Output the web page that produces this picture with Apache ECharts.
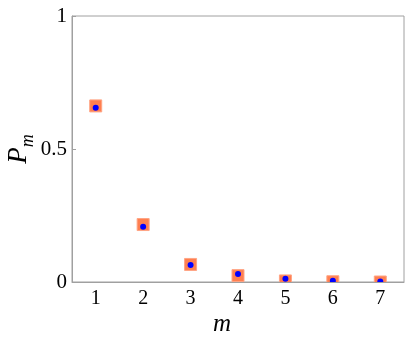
<!DOCTYPE html>
<html>
<head>
<meta charset="utf-8">
<script src="https://cdn.jsdelivr.net/npm/echarts@6/dist/echarts.min.js"></script>
<style>
html,body{margin:0;padding:0;background:#fff;}
#chart{width:407px;height:341px;}
</style>
</head>
<body>
<div id="chart"></div>
<script>
const mValues = [1, 2, 3, 4, 5, 6, 7];
const squareValues = [0.662, 0.216, 0.066, 0.024, 0.004, 0.001, 0.0];
const dotValues = [0.655, 0.208, 0.064, 0.030, 0.012, 0.005, 0.002];
const yTicks = [0, 0.5, 1];
const xTicks = [1, 2, 3, 4, 5, 6, 7];

const serif = "'Liberation Serif', 'Times New Roman', serif";
const axisColor = '#a0a0a0';

const chart = echarts.init(document.getElementById('chart'), null, {renderer: 'canvas'});

const squareData = mValues.map((m, i) => [m, squareValues[i]]);
const dotData = mValues.map((m, i) => [m, dotValues[i]]);

chart.setOption({
  animation: false,
  grid: {left: 72, right: 3, top: 16, bottom: 59, containLabel: false, outerBoundsMode: 'none',
         show: true, borderColor: axisColor, borderWidth: 1, backgroundColor: 'transparent'},
  xAxis: {
    type: 'value', min: 0.5, max: 7.5, z: 10,
    name: 'm', nameLocation: 'middle', nameGap: 30, nameMoveOverlap: false,
    nameTextStyle: {fontFamily: serif, fontStyle: 'italic', fontSize: 25, color: '#000', padding: [0, 32, 0, 0]},
    axisLine: {show: true, lineStyle: {color: axisColor, width: 1}},
    axisTick: {show: false},
    splitLine: {show: false},
    axisLabel: {customValues: xTicks, fontFamily: serif, fontSize: 20, color: '#000', margin: 7}
  },
  yAxis: {
    type: 'value', min: 0, max: 1, interval: 0.5, z: 10,
    name: '{p|P}{s|m}', nameLocation: 'middle', nameGap: 40, nameRotate: 90, nameMoveOverlap: false,
    nameTextStyle: {
      color: '#000',
      rich: {
        p: {fontFamily: serif, fontStyle: 'italic', fontSize: 27, color: '#000'},
        s: {fontFamily: serif, fontStyle: 'italic', fontSize: 18, color: '#000', verticalAlign: 'bottom', padding: [0, 0, -5, 0]}
      }
    },
    axisLine: {show: true, lineStyle: {color: axisColor, width: 1}},
    axisTick: {show: true, inside: true, length: 4, lineStyle: {color: axisColor}},
    splitLine: {show: false},
    axisLabel: {customValues: yTicks, fontFamily: serif, fontSize: 21, color: '#000', margin: 5}
  },
  series: [
    {
      type: 'custom', clip: true, z: 2,
      data: squareData,
      renderItem: function (params, api) {
        const p = api.coord([api.value(0), api.value(1)]);
        return {
          type: 'rect',
          shape: {x: p[0] - 6, y: p[1] - 6, width: 12, height: 12},
          style: {fill: '#ff7f50', stroke: '#ffa585', lineWidth: 1}
        };
      }
    },
    {
      type: 'custom', clip: true, z: 3,
      data: dotData,
      renderItem: function (params, api) {
        const p = api.coord([api.value(0), api.value(1)]);
        return {
          type: 'circle',
          shape: {cx: p[0], cy: p[1], r: 3},
          style: {fill: '#0000ff'}
        };
      }
    }
  ]
});
</script>
</body>
</html>
